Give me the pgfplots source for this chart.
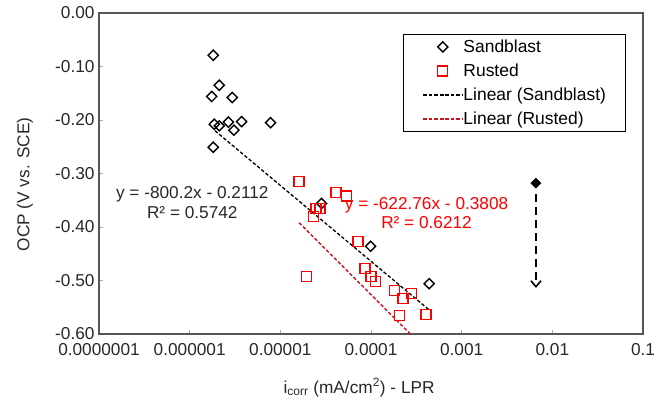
\documentclass[border=0pt]{standalone}
\usepackage{pgfplots}
\pgfplotsset{compat=1.18}
\usepackage{fontspec}
\setmainfont{Liberation Sans}
\usetikzlibrary{arrows.meta}
\definecolor{framegray}{RGB}{85,85,85}
\definecolor{tickgray}{RGB}{170,170,170}
\definecolor{myred}{RGB}{255,0,0}
\definecolor{trendred}{RGB}{200,20,30}
\definecolor{txtgray}{RGB}{40,40,40}

\pgfplotstableread{
x y
1.82e-6 -0.079
2.12e-6 -0.135
1.75e-6 -0.156
2.95e-6 -0.158
1.87e-6 -0.208
2.12e-6 -0.211
2.67e-6 -0.204
3.74e-6 -0.203
3.08e-6 -0.219
7.8e-6 -0.205
1.82e-6 -0.251
2.85e-5 -0.356
9.9e-5 -0.436
4.38e-4 -0.506
}\sandblast

\pgfplotstableread{
x y
1.61e-5 -0.315
4.1e-5 -0.335
5.38e-5 -0.342
2.47e-5 -0.365
2.74e-5 -0.365
2.34e-5 -0.381
7.2e-5 -0.427
1.95e-5 -0.492
8.57e-5 -0.477
1.0e-4 -0.492
1.13e-4 -0.502
1.83e-4 -0.519
2.8e-4 -0.524
2.26e-4 -0.533
2.05e-4 -0.566
4.03e-4 -0.564
}\rusted

\begin{document}
\begin{tikzpicture}
\useasboundingbox (-99bp,-71bp) rectangle (568bp,334bp);
\begin{axis}[
  at={(0,0)}, anchor=south west,
  width=544bp, height=321bp, scale only axis,
  xmode=log, xmin=1e-7, xmax=0.1, ymin=-0.6, ymax=0,
  xtick={1e-7,1e-6,1e-5,1e-4,1e-3,1e-2,1e-1},
  xticklabels={0.0000001,0.000001,0.00001,0.0001,0.001,0.01,0.1},
  xminorticks=false,
  ytick={-0.6,-0.5,-0.4,-0.3,-0.2,-0.1,0},
  yticklabels={-0.60,-0.50,-0.40,-0.30,-0.20,-0.10,0.00},
  tick align=inside, xtick pos=bottom, ytick pos=left,
  major tick length=4bp,
  tick style={tickgray, line width=0.8bp},
  axis line style={framegray, line width=1.4bp},
  tick label style={font=\fontsize{17.3}{20}\selectfont, text=txtgray},
  xticklabel style={yshift=-6bp},
  yticklabel style={xshift=-1bp},
  label style={font=\fontsize{17.3}{20}\selectfont, text=txtgray},
  xlabel={i\textsubscript{corr} (mA/cm\textsuperscript{2}) - LPR},
  ylabel={OCP (V vs. SCE)},
  xlabel style={at={(axis description cs:0.478,-0.167)}, anchor=center},
  ylabel style={at={(axis description cs:-0.136,0.466)}, anchor=center, rotate=0},
  legend style={at={(rel axis cs:0.559,0.935)}, anchor=north west,
    draw=black, line width=1.2bp, font=\fontsize{17.5}{20}\selectfont,
    inner xsep=19bp, inner ysep=0.5bp,
    nodes={inner sep=0.5bp, minimum height=24bp},
    /tikz/every even column/.append style={column sep=5bp}},
  legend cell align=left,
  legend image code/.code={\draw[mark repeat=2,mark phase=2] plot coordinates {(0bp,0bp)(19.5bp,0bp)(39bp,0bp)};},
  clip=true,
]
\addplot[black, line width=1.3bp, dash pattern=on 3.5bp off 2bp, forget plot] coordinates {(1.9e-6,-0.22) (4.38e-4,-0.555)};
\addplot[trendred, line width=1.3bp, dash pattern=on 3.5bp off 2bp, forget plot] coordinates {(1.61e-5,-0.392) (4.03e-4,-0.629)};
\addplot[black, only marks, mark=square, mark size=3.6bp, mark options={rotate=45, line width=1.4bp, solid, fill=white}] table {\sandblast};
\addlegendentry{Sandblast}
\addplot[myred, only marks, mark=square, mark size=5bp, mark options={line width=1.3bp, solid}] table {\rusted};
\addlegendentry{Rusted}
\addlegendimage{black, line width=1.3bp, dash pattern=on 3.5bp off 2bp}
\addlegendentry{Linear (Sandblast)}
\addlegendimage{trendred, line width=1.3bp, dash pattern=on 3.5bp off 2bp}
\addlegendentry{Linear (Rusted)}
\addplot[forget plot, black, only marks, mark=square*, mark size=3.6bp, mark options={rotate=45, fill=black}] coordinates {(6.6e-3,-0.318)};
\addplot[forget plot, black, line width=2bp, dash pattern=on 8bp off 5bp, -{Straight Barb[length=6bp,width=10bp,line width=1.6bp]}] coordinates {(6.6e-3,-0.338) (6.6e-3,-0.514)};
\node[align=center, font=\fontsize{17.3}{20}\selectfont, text=txtgray] at (axis cs:1.07e-6,-0.355) {y = -800.2x - 0.2112\\R² = 0.5742};
\node[align=center, font=\fontsize{17.3}{20}\selectfont, text=myred] at (axis cs:4.1e-4,-0.374) {y = -622.76x - 0.3808\\R² = 0.6212};
\end{axis}
\end{tikzpicture}
\end{document}
